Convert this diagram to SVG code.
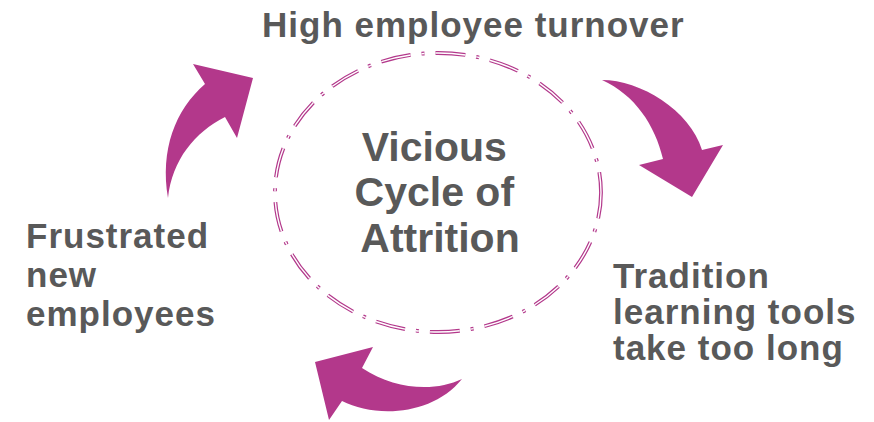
<svg xmlns="http://www.w3.org/2000/svg" width="874" height="422" viewBox="0 0 874 422">
  <style>
    .lbl { font-family: "Liberation Sans", Arial, sans-serif; font-weight: bold; fill: #595959; }
    .side { font-size: 35px; letter-spacing: 1px; }
    .center { font-size: 41px; }
    .arrow { fill: #B3388B; stroke: none; }
    .ring { fill: none; stroke-dasharray: 30 11 3 11; stroke-dashoffset: 4; }
    .ring-outer { stroke: #B3388B; stroke-width: 3.8; }
    .ring-inner { stroke: #ffffff; stroke-width: 1.4; }
  </style>
  <rect width="874" height="422" fill="#ffffff"/>

  <g id="cycle">
    <ellipse class="ring ring-outer" cx="438" cy="192.5" rx="163" ry="139.5"/>
    <ellipse class="ring ring-inner" cx="438" cy="192.5" rx="163" ry="139.5"/>
    <text class="lbl center" text-anchor="middle">
      <tspan x="440" y="161">Vicious</tspan>
      <tspan x="440" y="206">Cycle of</tspan>
      <tspan x="440" y="252">Attrition</tspan>
    </text>
  </g>

  <g id="turnover">
    <text class="lbl side" x="262" y="37">High employee turnover</text>
  </g>

  <g id="tools">
    <text class="lbl side">
      <tspan x="613" y="288">Tradition</tspan>
      <tspan x="613" y="324">learning tools</tspan>
      <tspan x="613" y="360">take too long</tspan>
    </text>
  </g>

  <g id="frustrated">
    <text class="lbl side">
      <tspan x="26" y="248">Frustrated</tspan>
      <tspan x="26" y="287">new</tspan>
      <tspan x="26" y="326">employees</tspan>
    </text>
  </g>

  <g id="connectors">
    <path class="arrow" d="M168,198 C160,150 175,110 205,84 L193,64 L253,78 L237,138 L225,117 C195,132 172,160 168,198 Z"/>
    <path class="arrow" d="M602,80 C640,80 690,110 702,150 L723,145 L692,197 L639,165 L663,159 C655,125 635,95 602,80 Z"/>
    <path class="arrow" d="M462,379 C432,416 375,418 342,401 L329,420 L315,362 L373,347 L362,368 C395,390 435,392 462,379 Z"/>
  </g>
</svg>
